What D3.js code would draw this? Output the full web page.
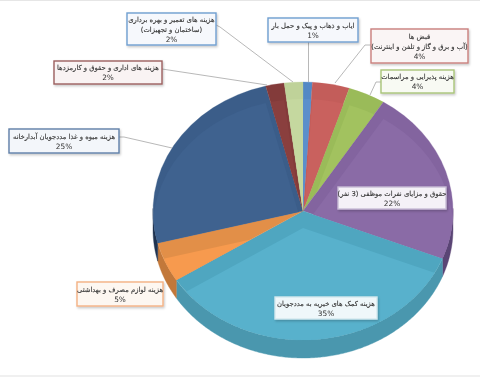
<!DOCTYPE html>
<html lang="fa"><head><meta charset="utf-8">
<script src="https://cdn.jsdelivr.net/npm/d3@7/dist/d3.min.js"></script>
<style>
html,body{margin:0;padding:0;background:#fff;overflow:hidden}
svg{display:block;filter:blur(0.35px)}
text{font-family:"DejaVu Sans",sans-serif;font-size:6.8px;fill:#333;stroke:#333;stroke-width:.12;direction:rtl;text-anchor:middle}
text.pct{font-size:7.4px;stroke-width:0;direction:ltr}
</style></head><body>
<svg id="c" width="480" height="377"></svg>
<script>
const categories=["transport","bills","hospitality","salaries","charity","supplies","food","admin","repairs"];
const values=[1,4,4,22,35,5,25,2,2];
const labelLines=[
 ["ایاب و ذهاب و پیک و حمل بار"],
 ["قبض ها","(آب و برق و گاز و تلفن و اینترنت)"],
 ["هزینه پذیرایی و مراسمات"],
 ["حقوق و مزایای نفرات موظفی (3 نفر)"],
 ["هزینه کمک های خیریه به مددجویان"],
 ["هزینه لوازم مصرف و بهداشتی"],
 ["هزینه میوه و غذا مددجویان آبدارخانه"],
 ["هزینه های  اداری و حقوق و کارمزدها"],
 ["هزینه های تعمیر و بهره برداری","(ساختمان و تجهیزات)"]
];
// styling, in category order
const faceColors=["#5b8fcb","#c9615e","#a2c25f","#8a6ba6","#58b1cc","#f79a4e","#3f628f","#8a3f3e","#c5d89f"];
const bevelColors=["#5389c5","#c35d5a","#9abb59","#83649f","#4fa6c0","#e28f48","#3b5d89","#833b3a","#bfd299"];
const sideColors=["#3d6a9e","#9c4341","#7b9643","#5a4575","#4a97ae","#c2783a","#1f3350","#652c2b","#98a973"];
const boxStroke=["#6f9fd0","#c97f7d","#a9c478","#c8bcd6","#d5e8ee","#f4b183","#5f7fa8","#9c5f5e","#6f9fd0"];
const boxFill=["#f6f8fc","#faf5f5","#f8faf3","#f4f1f7","#eff7fa","#fdf7f1","#f3f6fa","#f9f3f3","#f6f8fc"];
// layout: x0,y0,x1,y1 of each callout
const boxes=[[268,18,358,42],[371,29,468,63],[381,70,454,93],[338,187,446,209],[275,297,377,319],[77,282,163,306],[9,129,119,153],[54,61,162,84],[127,13,216,45]];
const leaders=[
 [[308.5,42],[308.5,82]],
 [[371,45],[365,45],[335,83]],
 [[381,82],[376,82],[370,95]],
 null,null,null,
 [[119,137],[124,137],[172,148]],
 [[162,69],[267,85]],
 [[216,25],[220,27],[293,82]]
];
const cx=303,cy=211,rx=150,ry=129,depth=18,bevel=17;

const svg=d3.select("#c");
const defs=svg.append("defs");
const sh=defs.append("filter").attr("id","sh").attr("x","-10%").attr("y","-20%").attr("width","120%").attr("height","150%");
sh.append("feDropShadow").attr("dx",1).attr("dy",1.5).attr("stdDeviation",1).attr("flood-color","#000").attr("flood-opacity",.22);

svg.append("rect").attr("width",480).attr("height",1).attr("fill","#e6e6e6");
svg.append("rect").attr("y",375).attr("width",480).attr("height",2).attr("fill","#f0f0f0");

const pie=d3.pie().sort(null).value(d=>d);
const slices=pie(values);
const arc=d3.arc().innerRadius(0).outerRadius(rx);
const yScale=ry/rx;

// extruded side of the cake
const side=d3.area()
  .x(a=>cx+rx*Math.sin(a))
  .y0(a=>cy-ry*Math.cos(a))
  .y1(a=>cy-ry*Math.cos(a)+depth);
const sideG=svg.append("g");
slices.forEach((s,i)=>{
  const a0=Math.max(s.startAngle,Math.PI/2-0.02),a1=Math.min(s.endAngle,Math.PI*1.5+0.02);
  if(a1<=a0)return;
  sideG.append("path").attr("d",side(d3.range(a0,a1,0.01).concat([a1]))).attr("fill",sideColors[i]).attr("stroke",sideColors[i]).attr("stroke-width",.4);
});

// top face with bevel: each slice's face is the slice itself shifted down and clipped to it
slices.forEach((s,i)=>{
  defs.append("clipPath").attr("id","clip"+i).append("path")
    .attr("d",arc(s)).attr("transform",`translate(${cx},${cy}) scale(1,${yScale})`);
});
const topFace=svg.append("g");
topFace.selectAll("path.bevel").data(slices).join("path").attr("class","bevel")
  .attr("d",arc).attr("fill",(d,i)=>bevelColors[i]).attr("stroke",(d,i)=>bevelColors[i]).attr("stroke-width",.3)
  .attr("transform",`translate(${cx},${cy}) scale(1,${yScale})`);
topFace.selectAll("g.face").data(slices).join("g").attr("class","face")
  .attr("clip-path",(d,i)=>`url(#clip${i})`)
  .append("path").attr("d",arc).attr("fill",(d,i)=>faceColors[i])
  .attr("transform",`translate(${cx},${cy+bevel}) scale(1,${yScale})`);

// leader lines
const line=d3.line();
svg.append("g").selectAll("path").data(leaders.filter(Boolean)).join("path")
  .attr("d",line).attr("fill","none").attr("stroke","#a6a6a6").attr("stroke-width",.8);

// callouts
const g=svg.append("g").selectAll("g").data(categories).join("g");
g.append("rect")
  .attr("x",(d,i)=>boxes[i][0]).attr("y",(d,i)=>boxes[i][1])
  .attr("width",(d,i)=>boxes[i][2]-boxes[i][0]).attr("height",(d,i)=>boxes[i][3]-boxes[i][1])
  .attr("fill",(d,i)=>boxFill[i]).attr("stroke",(d,i)=>boxStroke[i]).attr("stroke-width",1.4)
  .attr("filter","url(#sh)");
g.each(function(d,i){
  const rows=labelLines[i].concat([values[i]+"%"]);
  const b=boxes[i],mx=(b[0]+b[2])/2,my=(b[1]+b[3])/2,lh=10;
  const y0=my-(rows.length-1)*lh/2+2.5;
  const el=d3.select(this);
  rows.forEach((t,k)=>{
    el.append("text").attr("class",k===rows.length-1?"pct":null)
      .attr("x",mx).attr("y",y0+k*lh).text(t);
  });
});
</script></body></html>
